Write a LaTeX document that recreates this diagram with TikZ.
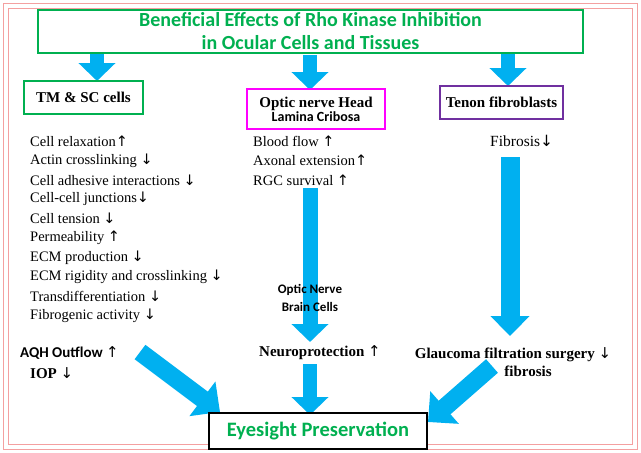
\documentclass[tikz,border=0pt]{standalone}
\usepackage{fontspec}
\setmainfont{Liberation Serif}
\newfontfamily\carl{Carlito}
\newfontfamily\dvs{DejaVu Sans}
\newcommand{\uar}{{\dvs\mdseries ↑}}
\newcommand{\dar}{{\dvs\mdseries ↓}}
\usetikzlibrary{arrows.meta}
\definecolor{cblue}{HTML}{00B0F0}
\definecolor{cgreen}{HTML}{00B050}
\definecolor{cmag}{HTML}{FF00FF}
\definecolor{cpurp}{HTML}{7030A0}
\definecolor{cred}{HTML}{F4A0A0}
\begin{document}
\begin{tikzpicture}[x=1pt,y=-1pt,
  blk/.style={draw=cblue,line width=14pt,-{Triangle[width=36pt,length=18pt]},cblue},
  hbox/.style={draw,fill=white,line width=1.6pt,inner sep=4pt,font=\bfseries\fontsize{15}{17}\selectfont},
  item/.style={anchor=west,inner sep=0pt,font=\fontsize{14.5}{16}\selectfont},
  ttl/.style={text=cgreen,font=\carl\bfseries\fontsize{20}{23}\selectfont,align=center}]
\useasboundingbox (0,0) rectangle (641,453);
\fill[white] (0,0) rectangle (641,453);
\draw[cred,line width=1pt] (3,3) rectangle (637,449);
\draw[cred,line width=1pt] (8,8) rectangle (632,444);
\coordinate (a1s) at (97,52); \coordinate (a1e) at (97,81);
\coordinate (a2s) at (310,55); \coordinate (a2e) at (310,90);
\coordinate (a3s) at (508,52); \coordinate (a3e) at (508,86);
\draw[blk] (a1s) -- (a1e);
\draw[blk] (a2s) -- (a2e);
\draw[blk] (a3s) -- (a3e);
\node[draw=cgreen,fill=white,line width=1.6pt,minimum width=545,minimum height=43,inner sep=1pt,ttl] (title) at (310.5,31.5)
  {Beneficial Effects of Rho Kinase Inhibition\\in Ocular Cells and Tissues};
\node[hbox,draw=cgreen,minimum width=119,minimum height=33] (tm) at (83.5,97.5) {TM \& SC cells};
\node[hbox,draw=cmag,minimum width=138,minimum height=40,align=center] (onh) at (316,109)
  {Optic nerve Head\\[-3pt]{\carl\bfseries\fontsize{14}{16}\selectfont Lamina Cribosa}};
\node[hbox,draw=cpurp,minimum width=123,minimum height=33] (ten) at (501.5,102.5) {Tenon fibroblasts};
\foreach \t [count=\i] in {Cell relaxation\uar, Actin crosslinking \dar, Cell adhesive interactions \dar, Cell-cell junctions\dar, Cell tension \dar, Permeability \uar, ECM production \dar, ECM rigidity and crosslinking \dar, Transdifferentiation \dar, Fibrogenic activity \dar}
  \node[item] (l\i) at (30,{141+(\i-1)*19.4}) {\t};
\node[item] (m1) at (253,141) {Blood flow \uar};
\node[item] (m2) at (253,160.4) {Axonal extension\uar};
\node[item] (m3) at (253,179.8) {RGC survival \uar};
\node[item,font=\fontsize{15.5}{17}\selectfont] (fib) at (490,141) {Fibrosis\dar};
\coordinate (b2s) at (310,188); \coordinate (b2e) at (310,342);
\coordinate (b3s) at (510,157); \coordinate (b3e) at (510,336);
\draw[blk,line width=15pt] (b2s) -- (b2e);
\draw[blk,line width=19pt,-{Triangle[width=38pt,length=20pt]}] (b3s) -- (b3e);
\node[align=center,font=\carl\bfseries\fontsize{13}{18}\selectfont] (onbc) at (310,298) {Optic Nerve\\Brain Cells};
\node[font=\bfseries\fontsize{15}{17}\selectfont] (neu) at (320,353) {Neuroprotection \uar};
\node[font=\bfseries\fontsize{15}{18}\selectfont,align=center] (gla) at (513,362) {Glaucoma filtration surgery \dar\\\hspace*{30pt}fibrosis};
\node[anchor=west,inner sep=0pt,font=\carl\bfseries\fontsize{15}{17}\selectfont] (aqh) at (20,353) {AQH Outflow \uar};
\node[anchor=west,inner sep=0pt,font=\bfseries\fontsize{15}{17}\selectfont] (iop) at (30,373) {IOP \dar};
\coordinate (c1s) at (140,352); \coordinate (c1e) at (220,412);
\coordinate (c2s) at (310,364); \coordinate (c2e) at (310,415);
\coordinate (c3s) at (492,366); \coordinate (c3e) at (428,422);
\draw[blk,line width=18pt,-{Triangle[width=42pt,length=22pt]}] (c1s) -- (c1e);
\draw[blk] (c2s) -- (c2e);
\draw[blk,line width=18pt,-{Triangle[width=42pt,length=22pt]}] (c3s) -- (c3e);
\node[draw=black,fill=white,line width=2.2pt,minimum width=218,minimum height=36,font=\carl\bfseries\fontsize{20.5}{22}\selectfont,text=cgreen] (eye) at (318,431) {Eyesight Preservation};
\end{tikzpicture}
\end{document}
